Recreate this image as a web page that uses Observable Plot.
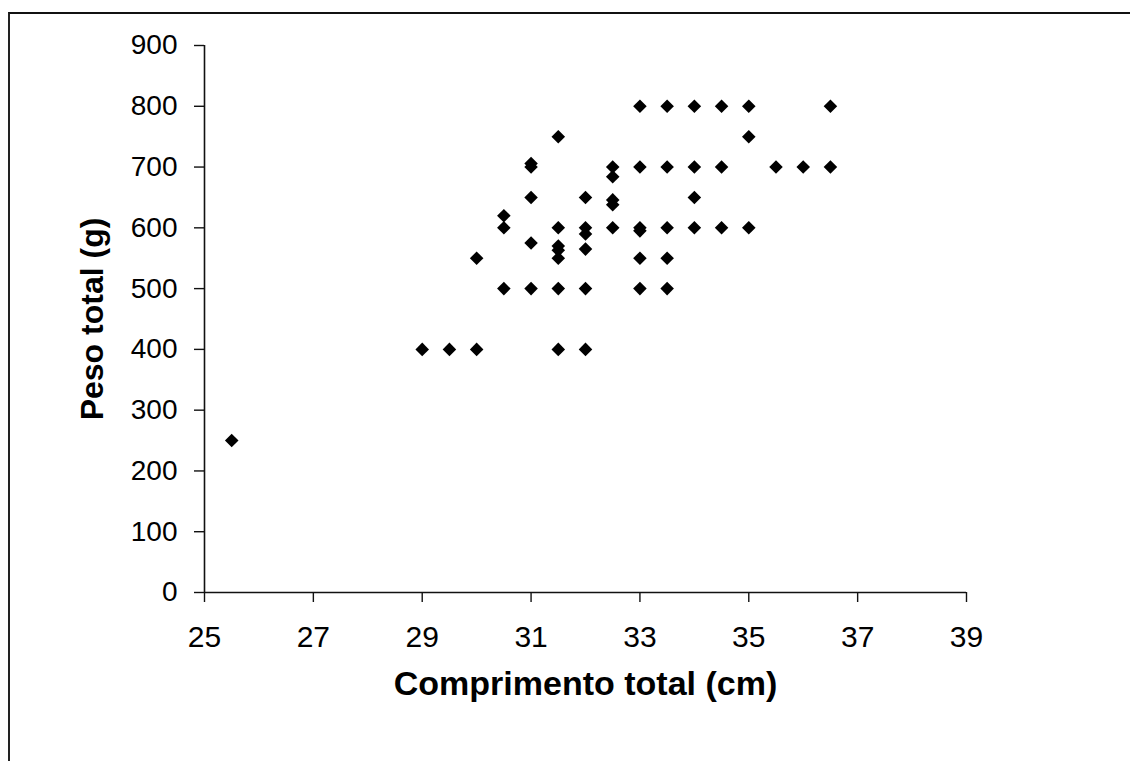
<!DOCTYPE html>
<html>
<head>
<meta charset="utf-8">
<script src="https://cdn.jsdelivr.net/npm/d3@7"></script>
<script src="https://cdn.jsdelivr.net/npm/@observablehq/plot@0.6"></script>
<style>
  html, body { margin: 0; padding: 0; background: #fff; }
  #wrap { position: relative; width: 1130px; height: 761px; overflow: hidden; }
  #frame { position: absolute; left: 8px; top: 12px; width: 1130px; height: 800px;
           border-top: 2px solid #111; border-left: 2px solid #222; }
  #chart { position: absolute; left: 0; top: 0; }
</style>
</head>
<body>
<div id="wrap"><div id="frame"></div><div id="chart"></div></div>
<script>
const comprimento = [25.5,
  29, 29.5, 30, 31.5, 32,
  30,
  30.5, 30.5, 30.5,
  31, 31, 31, 31, 31,
  31.5, 31.5, 31.5, 31.5, 31.5, 31.5,
  32, 32, 32, 32, 32,
  32.5, 32.5, 32.5, 32.5, 32.5,
  33, 33, 33, 33, 33, 33,
  33.5, 33.5, 33.5, 33.5, 33.5,
  34, 34, 34, 34,
  34.5, 34.5, 34.5,
  35, 35, 35,
  35.5, 36, 36.5, 36.5];
const peso = [250,
  400, 400, 400, 400, 400,
  550,
  500, 600, 620,
  500, 575, 650, 700, 706,
  500, 550, 563, 570, 600, 750,
  500, 565, 590, 600, 650,
  600, 638, 646, 684, 700,
  500, 550, 595, 600, 700, 800,
  500, 550, 600, 700, 800,
  600, 650, 700, 800,
  600, 700, 800,
  600, 750, 800,
  700, 700, 700, 800];
const xTicks = [25, 27, 29, 31, 33, 35, 37, 39];
const yTicks = [0, 100, 200, 300, 400, 500, 600, 700, 800, 900];
const xLabel = "Comprimento total (cm)";
const yLabel = "Peso total (g)";

const points = comprimento.map((c, i) => ({c, p: peso[i]}));

const font = "'Liberation Sans', Arial, Helvetica, sans-serif";

const chart = Plot.plot({
  width: 1130,
  height: 761,
  marginLeft: 204,
  marginRight: 164,
  marginTop: 45,
  marginBottom: 169,
  style: {fontFamily: font, background: "transparent", color: "#000", overflow: "visible"},
  x: {domain: [25, 39]},
  y: {domain: [0, 900]},
  marks: [
    Plot.ruleY([0], {stroke: "#111", strokeWidth: 1.6}),
    Plot.ruleX([25], {stroke: "#111", strokeWidth: 1.6}),
    Plot.axisX({ticks: xTicks, tickSize: 10, tickPadding: 23, fontSize: 30, label: null,
      stroke: "#111", strokeWidth: 1.4, fill: "#000", tickFormat: d => String(d)}),
    Plot.axisY({ticks: yTicks, tickSize: 10, tickPadding: 17, fontSize: 28, label: null,
      stroke: "#111", strokeWidth: 1.4, fill: "#000", tickFormat: d => String(d)}),
    Plot.dot(points, {x: "c", y: "p", symbol: d3.symbolDiamond2, r: 6.1, fill: "#000", stroke: "none"}),
    Plot.text([xLabel], {frameAnchor: "bottom", dy: 92, fontSize: 34, fontWeight: "bold", fill: "#000", textAnchor: "middle", lineAnchor: "middle"}),
    Plot.text([yLabel], {frameAnchor: "left", dx: -112, rotate: -90, fontSize: 32, fontWeight: "bold", fill: "#000", textAnchor: "middle", lineAnchor: "middle"})
  ]
});
document.getElementById("chart").appendChild(chart);
</script>
</body>
</html>
